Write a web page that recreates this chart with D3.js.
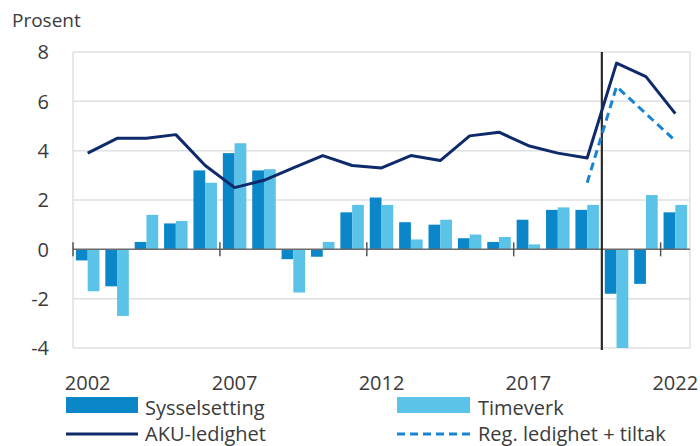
<!DOCTYPE html>
<html>
<head>
<meta charset="utf-8">
<script src="https://cdn.jsdelivr.net/npm/d3@7"></script>
<style>
  body { margin: 0; background: #fff; }
  svg text { font-family: "Open Sans", sans-serif; fill: #3b3b3b; }
</style>
</head>
<body>
<div id="chart"></div>
<script>
// Data
let years = d3.range(2002, 2023)
let yearTicks = [2002, 2007, 2012, 2017, 2022]
let yTicks = [-4, -2, 0, 2, 4, 6, 8]
let sysselsetting = [-0.45, -1.5, 0.3, 1.05, 3.2, 3.9, 3.2, -0.4, -0.3, 1.5, 2.1, 1.1, 1.0, 0.45, 0.3, 1.2, 1.6, 1.6, -1.8, -1.4, 1.5]
let timeverk = [-1.7, -2.7, 1.4, 1.15, 2.7, 4.3, 3.25, -1.75, 0.3, 1.8, 1.8, 0.4, 1.2, 0.6, 0.5, 0.2, 1.7, 1.8, -4.0, 2.2, 1.8]
let akuLedighet = [3.9, 4.5, 4.5, 4.65, 3.4, 2.5, 2.8, 3.3, 3.8, 3.4, 3.3, 3.8, 3.6, 4.6, 4.75, 4.2, 3.9, 3.7, 7.55, 7.0, 5.5]
let regYears = [2019, 2020, 2021, 2022]
let regLedighet = [2.7, 6.6, 5.5, 4.4]
let splitYear = 2020

let w = 700
let h = 446
let pLeft = 73, pRight = 690, pTop = 52, pBottom = 348

let svg = d3.select("#chart").append("svg").attr("width", w).attr("height", h)

let xScale = d3.scaleBand().domain(years).range([pLeft, pRight]).padding(0)
let sub = d3.scaleBand().domain(["s", "t"]).range([0, xScale.bandwidth()]).paddingInner(0).paddingOuter(0.25)
let yScale = d3.scaleLinear().domain([-4, 8]).range([pBottom, pTop])

// gridlines
svg.append("g").selectAll("line")
    .data(yTicks.filter(d => d != 0))
    .enter().append("line")
    .attr("x1", pLeft).attr("x2", pRight)
    .attr("y1", d => yScale(d)).attr("y2", d => yScale(d))
    .attr("stroke", "#dfe0e6").attr("stroke-width", 1.5)

// frame sides
svg.append("line").attr("x1", pLeft).attr("x2", pLeft).attr("y1", pTop).attr("y2", pBottom)
    .attr("stroke", "#dfe0e6").attr("stroke-width", 1.5)
svg.append("line").attr("x1", pRight).attr("x2", pRight).attr("y1", pTop).attr("y2", pBottom)
    .attr("stroke", "#dfe0e6").attr("stroke-width", 1.5)

// y labels
svg.append("g").selectAll("text")
    .data(yTicks)
    .enter().append("text")
    .attr("x", 49).attr("y", d => yScale(d))
    .attr("dy", "0.36em")
    .attr("text-anchor", "end")
    .style("font-size", "20px")
    .text(d => d)

svg.append("text").attr("x", 12).attr("y", 27).style("font-size", "19px").text("Prosent")

// bars
svg.append("g").selectAll("rect")
    .data(years)
    .enter().append("rect")
    .attr("x", d => xScale(d) + sub("s"))
    .attr("width", sub.bandwidth())
    .attr("y", (d, i) => yScale(Math.max(0, sysselsetting[i])))
    .attr("height", (d, i) => Math.abs(yScale(sysselsetting[i]) - yScale(0)))
    .attr("fill", "#0a86c9")

svg.append("g").selectAll("rect")
    .data(years)
    .enter().append("rect")
    .attr("x", d => xScale(d) + sub("t"))
    .attr("width", sub.bandwidth())
    .attr("y", (d, i) => yScale(Math.max(0, timeverk[i])))
    .attr("height", (d, i) => Math.abs(yScale(timeverk[i]) - yScale(0)))
    .attr("fill", "#5bc2e8")

// zero axis with ticks
svg.append("line").attr("x1", pLeft).attr("x2", pRight).attr("y1", yScale(0)).attr("y2", yScale(0))
    .attr("stroke", "#6b6b6b").attr("stroke-width", 1.5)
svg.append("g").selectAll("line")
    .data(yearTicks)
    .enter().append("line")
    .attr("x1", d => xScale(d)).attr("x2", d => xScale(d))
    .attr("y1", yScale(0) - 7).attr("y2", yScale(0) + 7)
    .attr("stroke", "#555").attr("stroke-width", 1.5)

// year labels
svg.append("g").selectAll("text")
    .data(yearTicks)
    .enter().append("text")
    .attr("x", d => xScale(d) + xScale.bandwidth() / 2)
    .attr("y", 390)
    .attr("text-anchor", "middle")
    .style("font-size", "20px")
    .text(d => d)

// split line
svg.append("line")
    .attr("x1", xScale(splitYear)).attr("x2", xScale(splitYear))
    .attr("y1", pTop).attr("y2", pBottom + 2)
    .attr("stroke", "#2b2b2b").attr("stroke-width", 2.2)

// lines
let cx = d => xScale(d) + xScale.bandwidth() / 2
let akuLine = d3.line().x((d, i) => cx(years[i])).y(d => yScale(d))
svg.append("path").datum(akuLedighet)
    .attr("d", akuLine)
    .attr("fill", "none").attr("stroke", "#0e2a6a").attr("stroke-width", 3)
    .attr("stroke-linejoin", "round")

let regLine = d3.line().x((d, i) => cx(regYears[i])).y(d => yScale(d))
svg.append("path").datum(regLedighet)
    .attr("d", regLine)
    .attr("fill", "none").attr("stroke", "#1a84d4").attr("stroke-width", 3)
    .attr("stroke-dasharray", "8,5")

// legend
let lg = svg.append("g")
lg.append("rect").attr("x", 66).attr("y", 397).attr("width", 72).attr("height", 16).attr("fill", "#0a86c9")
lg.append("text").attr("x", 145).attr("y", 415).style("font-size", "20px").text("Sysselsetting")
lg.append("rect").attr("x", 397).attr("y", 397).attr("width", 73).attr("height", 16).attr("fill", "#5bc2e8")
lg.append("text").attr("x", 478).attr("y", 415).style("font-size", "20px").text("Timeverk")
lg.append("line").attr("x1", 66).attr("x2", 138).attr("y1", 434).attr("y2", 434)
    .attr("stroke", "#0e2a6a").attr("stroke-width", 3)
lg.append("text").attr("x", 145).attr("y", 441).style("font-size", "20px").text("AKU-ledighet")
lg.append("line").attr("x1", 397).attr("x2", 470).attr("y1", 434).attr("y2", 434)
    .attr("stroke", "#1a84d4").attr("stroke-width", 3).attr("stroke-dasharray", "8,5")
lg.append("text").attr("x", 478).attr("y", 441).style("font-size", "20px").text("Reg. ledighet + tiltak")
</script>
</body>
</html>
